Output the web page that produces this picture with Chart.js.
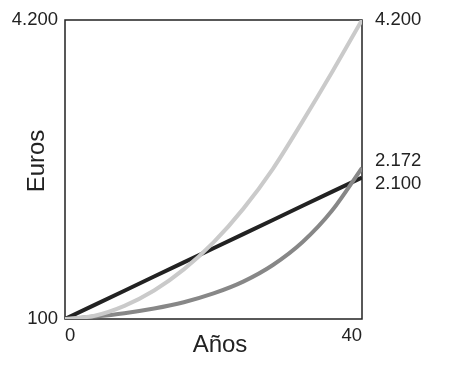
<!DOCTYPE html>
<html>
<head>
<meta charset="utf-8">
<script src="https://cdn.jsdelivr.net/npm/chart.js@4.4.1/dist/chart.umd.min.js"></script>
<style>
  html, body { margin: 0; padding: 0; background: #fff; }
  #wrap { width: 450px; height: 368px; }
</style>
</head>
<body>
<div id="wrap"><canvas id="interes_canvas"></canvas></div>
<script>
// Datos
const years = [0, 4, 8, 12, 16, 20, 24, 28, 32, 36, 40];
const simpleInterest = [100, 294, 488, 682, 876, 1070, 1264, 1458, 1652, 1846, 2040];
const quadGrowth = [100, 145, 280, 490, 780, 1150, 1610, 2160, 2810, 3490, 4200];
const compoundInterest = [100, 134, 180, 244, 330, 450, 612, 840, 1155, 1590, 2172];

const yTicks = [100, 4200];
const xTicks = [0, 40];
const endLabels = ['4.200', '2.172', '2.100'];
const endValues = [4200, 2172, 2100];

const FONT = '"Liberation Sans", Arial, sans-serif';
const TEXT = '#222';

function fmt(v) {
  return String(v).replace(/\B(?=(\d{3})+(?!\d))/g, '.');
}

function pts(vals) {
  return vals.map((v, i) => ({ x: years[i], y: v }));
}

// Marco, titulos y etiquetas a la derecha
const extras = {
  id: 'extras',
  beforeDatasetsDraw(chart) {
    const { ctx, chartArea: a } = chart;
    ctx.save();
    ctx.strokeStyle = '#222';
    ctx.lineWidth = 1.5;
    ctx.strokeRect(a.left, a.top, a.right - a.left, a.bottom - a.top);
    ctx.restore();
  },
  afterDraw(chart) {
    const { ctx, chartArea: a, scales } = chart;
    ctx.save();
    ctx.fillStyle = TEXT;
    ctx.font = '18.5px ' + FONT;
    ctx.textAlign = 'left';
    ctx.textBaseline = 'middle';
    const shift = [0, -7, 11];
    endValues.forEach((v, i) => {
      ctx.fillText(endLabels[i], a.right + 13, scales.y.getPixelForValue(v) + shift[i]);
    });

    ctx.font = '24px ' + FONT;
    ctx.textAlign = 'center';
    ctx.textBaseline = 'alphabetic';
    ctx.fillText('Años', 220, 352);

    ctx.translate(44, 161);
    ctx.rotate(-Math.PI / 2);
    ctx.fillText('Euros', 0, 0);
    ctx.restore();
  }
};

const chart = new Chart(document.getElementById('interes_canvas'), {
  type: 'line',
  data: {
    datasets: [
      {
        label: 'Cuadratico',
        data: pts(quadGrowth),
        borderColor: '#cacaca',
        borderWidth: 4,
        pointRadius: 0,
        cubicInterpolationMode: 'monotone'
      },
      {
        label: 'Compuesto',
        data: pts(compoundInterest),
        borderColor: '#878787',
        borderWidth: 4,
        pointRadius: 0,
        cubicInterpolationMode: 'monotone'
      },
      {
        label: 'Simple',
        data: pts(simpleInterest),
        borderColor: '#222222',
        borderWidth: 4,
        pointRadius: 0
      }
    ]
  },
  options: {
    responsive: true,
    maintainAspectRatio: false,
    animation: false,
    layout: {
      padding: { top: 20, right: 88, left: 0, bottom: 0 }
    },
    plugins: {
      legend: { display: false },
      tooltip: { enabled: false }
    },
    scales: {
      x: {
        type: 'linear',
        min: 0,
        max: 40,
        grid: { display: false, drawTicks: false },
        border: { display: false },
        afterBuildTicks: axis => { axis.ticks = xTicks.map(v => ({ value: v })); },
        afterFit: axis => { axis.height = 49; },
        ticks: {
          align: 'inner',
          padding: 6,
          maxRotation: 0,
          color: TEXT,
          font: { family: FONT, size: 18.5 }
        }
      },
      y: {
        min: 100,
        max: 4200,
        grid: { display: false, drawTicks: false },
        border: { display: false },
        afterBuildTicks: axis => { axis.ticks = yTicks.map(v => ({ value: v })); },
        afterFit: axis => { axis.width = 65; },
        ticks: {
          padding: 7,
          color: TEXT,
          font: { family: FONT, size: 18.5 },
          callback: v => fmt(v)
        }
      }
    }
  },
  plugins: [extras]
});
</script>
</body>
</html>
